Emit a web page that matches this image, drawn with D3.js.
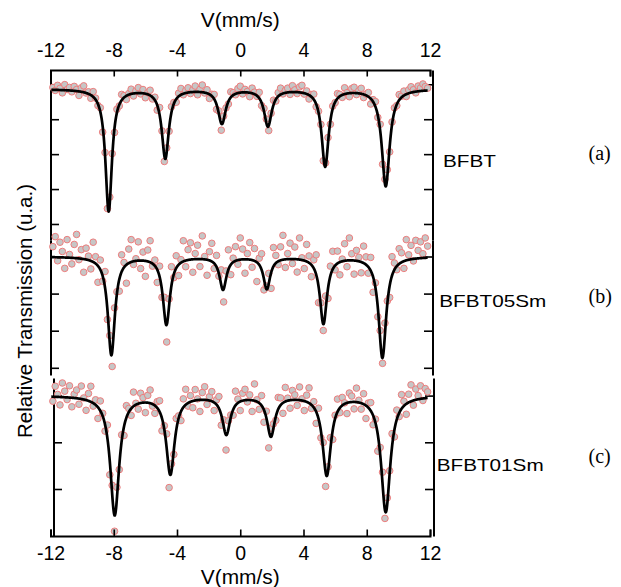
<!DOCTYPE html>
<html>
<head>
<meta charset="utf-8">
<script src="https://cdn.jsdelivr.net/npm/d3@7"></script>
<style>
  html, body { margin: 0; padding: 0; background: #fff; }
  svg { display: block; }
  text { font-family: "Liberation Sans", Arial, Helvetica, sans-serif; fill: #000; }
</style>
</head>
<body>
<svg id="chart" width="621" height="587"></svg>
<script>
// ---- velocity axis ----
const velocityTicks = [-12, -8, -4, 0, 4, 8, 12];
// linear velocity calibration of the folded spectra (mm/s)
const channelStart = -11.85;
const channelStep = 0.15;

// ---- samples ----
const samples = ["BFBT", "BFBT05Sm", "BFBT01Sm"];
const panelTags = ["(a)", "(b)", "(c)"];

// ---- measured relative transmission (%) per channel ----
const transBFBT = [
  99.82, 99.65, 99.94, 99.77, 99.51, 99.98, 99.70, 99.82, 99.57, 99.88,
  99.70, 99.36, 99.80, 99.91, 99.50, 99.57, 99.20, 99.58, 99.21, 98.78,
  98.66, 97.26, 96.09, 92.88, 93.54, 96.03, 97.24, 98.57, 98.76, 99.42,
  99.35, 99.13, 99.47, 99.72, 99.33, 99.62, 99.81, 99.45, 99.70, 99.23,
  99.52, 99.66, 99.16, 99.26, 98.52, 98.67, 97.33, 95.58, 96.36, 97.31,
  98.72, 98.96, 98.97, 99.49, 99.76, 99.40, 99.64, 99.80, 99.47, 99.68,
  99.90, 99.40, 99.71, 99.96, 99.50, 99.69, 99.19, 99.43, 99.42, 98.56,
  98.47, 97.37, 98.18, 98.65, 98.87, 99.57, 99.52, 99.40, 99.75, 99.89,
  99.45, 99.71, 99.59, 99.29, 99.78, 99.55, 99.31, 99.54, 98.78, 98.62,
  98.01, 97.35, 98.34, 99.09, 99.04, 99.52, 99.78, 99.45, 99.65, 99.78,
  99.42, 99.92, 99.68, 99.47, 99.85, 99.94, 99.44, 99.62, 99.16, 99.41,
  99.44, 98.71, 98.46, 97.70, 95.62, 95.50, 96.95, 97.71, 98.75, 98.95,
  99.47, 99.42, 99.25, 99.80, 99.52, 99.29, 99.75, 99.83, 99.41, 99.63,
  99.77, 99.24, 99.44, 99.53, 98.87, 99.12, 99.01, 98.10, 97.71, 95.42,
  94.56, 95.11, 96.13, 97.84, 98.65, 98.78, 99.41, 99.32, 99.61, 99.30,
  99.68, 99.86, 99.69, 99.51, 99.90, 99.79, 100.02, 99.87, 99.78
];
const transBFBT05Sm = [
  100.53, 101.07, 99.77, 100.77, 100.27, 99.36, 100.91, 100.11, 99.60, 100.65,
  101.19, 99.83, 100.37, 99.15, 100.45, 100.02, 99.33, 100.77, 99.99, 98.61,
  99.81, 98.67, 99.19, 96.60, 95.74, 94.07, 97.23, 98.10, 98.13, 100.09,
  99.68, 98.56, 100.40, 100.91, 99.57, 99.88, 100.79, 99.35, 100.24, 98.93,
  100.35, 100.85, 99.48, 99.81, 98.60, 99.48, 97.80, 97.80, 95.39, 97.71,
  99.45, 98.86, 100.04, 98.97, 99.83, 100.85, 99.45, 100.37, 100.74, 99.15,
  100.16, 100.61, 99.46, 101.11, 100.00, 98.99, 100.26, 100.71, 99.35, 100.06,
  98.94, 99.28, 97.55, 99.22, 100.36, 99.02, 99.91, 100.53, 99.58, 101.00,
  100.40, 99.10, 100.16, 100.75, 99.42, 100.43, 98.65, 99.91, 100.15, 98.20,
  98.41, 99.09, 98.28, 100.48, 100.06, 99.56, 100.52, 101.14, 99.41, 100.16,
  100.72, 99.62, 100.51, 99.16, 101.00, 99.93, 99.35, 100.65, 100.03, 98.91,
  99.82, 100.09, 97.51, 97.50, 96.01, 97.87, 97.74, 99.48, 100.28, 99.28,
  100.29, 99.01, 99.86, 100.69, 99.45, 101.00, 100.15, 99.05, 100.33, 99.96,
  99.12, 100.56, 99.98, 99.10, 99.95, 98.07, 98.58, 96.75, 96.01, 94.24,
  96.41, 97.60, 97.79, 99.99, 99.65, 99.29, 100.42, 100.20, 99.36, 100.91,
  100.09, 100.60, 99.76, 100.87, 100.33, 100.79, 100.15, 101.00, 100.56
];
const transBFBT01Sm = [
  99.76, 100.40, 100.05, 99.60, 100.54, 100.19, 99.83, 100.42, 99.52, 100.06,
  100.24, 99.63, 100.41, 99.90, 99.37, 100.09, 100.40, 99.55, 99.82, 99.02,
  99.77, 99.24, 98.48, 98.74, 96.61, 96.16, 94.19, 96.07, 96.83, 98.32,
  98.29, 99.57, 99.45, 99.15, 100.15, 99.67, 99.42, 100.10, 99.91, 99.27,
  100.01, 100.24, 99.55, 99.24, 99.74, 99.78, 98.49, 98.71, 98.36, 96.06,
  97.08, 97.48, 99.02, 99.13, 98.93, 99.86, 100.27, 99.55, 100.00, 99.48,
  100.26, 99.86, 99.32, 100.13, 100.38, 99.62, 99.95, 100.17, 99.36, 99.82,
  99.96, 98.73, 98.96, 97.67, 98.92, 99.17, 99.16, 100.19, 99.85, 99.36,
  100.10, 100.27, 99.73, 100.03, 99.32, 100.50, 99.82, 99.41, 100.00, 98.86,
  99.33, 97.76, 98.61, 98.79, 98.94, 99.92, 99.90, 99.24, 100.35, 99.89,
  99.46, 100.22, 100.03, 99.58, 100.37, 99.86, 99.36, 100.02, 100.33, 99.45,
  99.74, 98.81, 99.46, 98.19, 97.99, 96.11, 96.95, 98.20, 98.12, 99.16,
  99.85, 99.27, 99.92, 99.69, 99.23, 100.11, 99.98, 99.43, 100.32, 99.80,
  99.42, 100.08, 99.02, 99.68, 99.70, 98.75, 98.99, 97.62, 97.78, 96.72,
  94.74, 95.62, 96.78, 98.37, 98.23, 99.38, 99.10, 100.04, 99.76, 99.20,
  100.06, 100.46, 99.59, 100.28, 100.00, 100.42, 99.79, 100.30, 100.16
];

// ---- fitted magnetic sextets (Lorentzian lines) ----
const baselineBFBT = 99.73;
const centersBFBT = [-8.32, -4.74, -1.16, 1.75, 5.37, 9.20];
const depthsBFBT = [7.0, 3.95, 1.95, 2.1, 4.4, 5.55];
const halfWidthsBFBT = [0.25, 0.27, 0.29, 0.29, 0.27, 0.30];

const baselineBFBT05Sm = 100.0;
const centersBFBT05Sm = [-8.15, -4.67, -1.09, 1.68, 5.26, 8.99];
const depthsBFBT05Sm = [5.3, 3.65, 1.75, 1.72, 3.6, 5.45];
const halfWidthsBFBT05Sm = [0.27, 0.27, 0.26, 0.26, 0.27, 0.29];

const baselineBFBT01Sm = 100.0;
const centersBFBT01Sm = [-7.94, -4.42, -0.88, 1.94, 5.47, 9.20];
const depthsBFBT01Sm = [5.1, 3.33, 1.62, 1.70, 3.38, 4.97];
const halfWidthsBFBT01Sm = [0.34, 0.32, 0.30, 0.30, 0.32, 0.35];

// ---- unlabeled transmission ticks per panel (%) ----
const ticksBFBT = [100, 98, 96, 94, 92];
const ticksBFBT05Sm = [100, 98, 96, 94];
const ticksBFBT01Sm = [100, 98, 96];

// ---- panel geometry ----
const panels = [
  { name: samples[0], tag: panelTags[0], data: transBFBT, ticks: ticksBFBT,
    fit: { base: baselineBFBT, c: centersBFBT, d: depthsBFBT, w: halfWidthsBFBT },
    top: 70, bottom: 240, refY: 84.3, pxPerUnit: 17.46, axisL: 50.5, axisR: 432.5,
    nameX: 443, nameY: 167.3, nameLen: 53, tagY: 160 },
  { name: samples[1], tag: panelTags[1], data: transBFBT05Sm, ticks: ticksBFBT05Sm,
    fit: { base: baselineBFBT05Sm, c: centersBFBT05Sm, d: depthsBFBT05Sm, w: halfWidthsBFBT05Sm },
    top: 240, bottom: 375, refY: 256.5, pxPerUnit: 18.55, axisL: 50.5, axisR: 432.5,
    nameX: 439.3, nameY: 306.7, nameLen: 107, tagY: 303 },
  { name: samples[2], tag: panelTags[2], data: transBFBT01Sm, ticks: ticksBFBT01Sm,
    fit: { base: baselineBFBT01Sm, c: centersBFBT01Sm, d: depthsBFBT01Sm, w: halfWidthsBFBT01Sm },
    top: 378, bottom: 536, refY: 395.6, pxPerUnit: 23.35, axisL: 53.5, axisR: 433.5,
    nameX: 436.7, nameY: 471, nameLen: 107, tagY: 463 }
];

const svg = d3.select("#chart");
const x = d3.scaleLinear().domain([-12, 12]).range([50.5, 430]);
const axisTopY = 70, axisBottomY = 536;

// sum of six Lorentzian absorption lines below the baseline
function sextet(fit, v) {
  let a = 0;
  for (let k = 0; k < fit.c.length; k++) {
    const t = (v - fit.c[k]) / fit.w[k];
    a += fit.d[k] / (1 + t * t);
  }
  return fit.base - a;
}

const fineV = d3.range(-11.95, 11.86, 0.02);

panels.forEach(p => {
  const ref = 100;
  const y = d3.scaleLinear()
    .domain([ref + (p.refY - p.top) / p.pxPerUnit, ref - (p.bottom - p.refY) / p.pxPerUnit])
    .range([p.top, p.bottom]);

  // side axes with inward ticks, no labels
  const gl = svg.append("g").attr("transform", `translate(${p.axisL},0)`)
    .call(d3.axisLeft(y).tickValues(p.ticks).tickSize(-8.5).tickSizeOuter(0).tickFormat(""));
  const gr = svg.append("g").attr("transform", `translate(${p.axisR},0)`)
    .call(d3.axisRight(y).tickValues(p.ticks).tickSize(-8.5).tickSizeOuter(0).tickFormat(""));
  [gl, gr].forEach(g => {
    g.select(".domain").attr("stroke-width", 2);
    g.selectAll(".tick line").attr("stroke-width", 1.6);
  });

  // measured points
  const pts = p.data.map((t, i) => [channelStart + i * channelStep, t]);
  svg.append("g").selectAll("circle").data(pts).join("circle")
    .attr("cx", d => x(d[0]))
    .attr("cy", d => y(d[1]))
    .attr("r", 3.3)
    .attr("fill", "#c6c6c6")
    .attr("stroke", "#ee7d7d")
    .attr("stroke-width", 1);

  // fitted curve
  const line = d3.line().x(v => x(v)).y(v => y(sextet(p.fit, v)));
  svg.append("path").datum(fineV)
    .attr("d", line)
    .attr("fill", "none")
    .attr("stroke", "#000")
    .attr("stroke-width", 2.7)
    .attr("stroke-linejoin", "round");

  // sample name and panel tag
  svg.append("text")
    .attr("x", p.nameX).attr("y", p.nameY)
    .attr("font-size", 17)
    .attr("textLength", p.nameLen).attr("lengthAdjust", "spacingAndGlyphs")
    .text(p.name);
  svg.append("text")
    .attr("x", 588.5).attr("y", p.tagY)
    .attr("font-size", 20)
    .style("font-family", '"Liberation Serif", "Times New Roman", serif')
    .text(p.tag);
});

// velocity axes (top and bottom), ticks pointing inward
const fmt = d => String(d);
const gTop = svg.append("g").attr("transform", `translate(0,${axisTopY})`)
  .call(d3.axisTop(x).tickValues(velocityTicks).tickSize(-6.5).tickSizeOuter(-6.5).tickPadding(13).tickFormat(fmt));
const gBot = svg.append("g").attr("transform", `translate(0,${axisBottomY})`)
  .call(d3.axisBottom(x).tickValues(velocityTicks).tickSize(-6.5).tickSizeOuter(-6.5).tickPadding(10).tickFormat(fmt));
[gTop, gBot].forEach(g => {
  g.select(".domain").attr("stroke-width", 2);
  g.selectAll(".tick line").attr("stroke-width", 1.6);
  g.selectAll(".tick text").attr("font-size", 19.5).attr("fill", "#000");
});

// axis titles
svg.append("text").attr("x", x(0)).attr("y", 27.3)
  .attr("text-anchor", "middle").attr("font-size", 19.5)
  .attr("textLength", 79).attr("lengthAdjust", "spacingAndGlyphs")
  .text("V(mm/s)");
svg.append("text").attr("x", x(0)).attr("y", 583.5)
  .attr("text-anchor", "middle").attr("font-size", 19.5)
  .attr("textLength", 79).attr("lengthAdjust", "spacingAndGlyphs")
  .text("V(mm/s)");
svg.append("text")
  .attr("transform", "translate(31.5,311) rotate(-90)")
  .attr("text-anchor", "middle").attr("font-size", 20.5)
  .text("Relative Transmission (u.a.)");
</script>
</body>
</html>
